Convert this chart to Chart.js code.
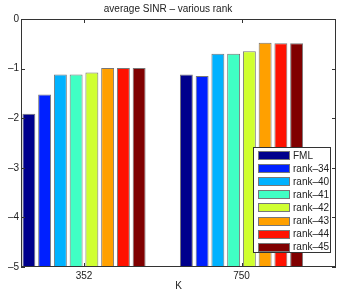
<!DOCTYPE html>
<html>
<head>
<meta charset="utf-8">
<script src="https://cdn.jsdelivr.net/npm/chart.js@4/dist/chart.umd.min.js"></script>
<style>
  html, body { margin: 0; padding: 0; background: #fff; }
  #chart { display: block; }
</style>
</head>
<body>
<canvas id="chart" width="346" height="295"></canvas>
<script>
// data
const categories = ['352', '750'];
const seriesNames = ['FML', 'rank-34', 'rank-40', 'rank-41', 'rank-42', 'rank-43', 'rank-44', 'rank-45'];
const fml    = [-1.91, -1.12];
const rank34 = [-1.52, -1.15];
const rank40 = [-1.12, -0.70];
const rank41 = [-1.12, -0.70];
const rank42 = [-1.08, -0.65];
const rank43 = [-0.99, -0.48];
const rank44 = [-0.99, -0.49];
const rank45 = [-0.99, -0.49];
const yTicks = [0, -1, -2, -3, -4, -5];

const seriesValues = [fml, rank34, rank40, rank41, rank42, rank43, rank44, rank45];
const colors = ['#00008c', '#0020ff', '#00b2ff', '#40ffc4', '#d0ff30', '#ffa000', '#ff1200', '#800000'];

const FONT = 'Liberation Sans, Arial, Helvetica, sans-serif';

// axes frame + inward ticks, matlab style
const framePlugin = {
    id: 'frame',
    afterDatasetsDraw(chart) {
        const { ctx, chartArea: a, scales } = chart;
        ctx.save();
        ctx.strokeStyle = '#333';
        ctx.lineWidth = 1;
        ctx.strokeRect(Math.round(a.left) + 0.5, Math.round(a.top) + 0.5,
            Math.round(a.right - a.left) - 1, Math.round(a.bottom - a.top) - 1);
        ctx.beginPath();
        yTicks.forEach(v => {
            const y = Math.round(scales.y.getPixelForValue(v)) + 0.5;
            ctx.moveTo(a.left, y); ctx.lineTo(a.left + 4, y);
            ctx.moveTo(a.right, y); ctx.lineTo(a.right - 4, y);
        });
        categories.forEach((c, i) => {
            const x = Math.round(scales.x.getPixelForValue(i + 1)) + 0.5;
            ctx.moveTo(x, a.top); ctx.lineTo(x, a.top + 4);
            ctx.moveTo(x, a.bottom); ctx.lineTo(x, a.bottom - 4);
        });
        ctx.stroke();
        ctx.restore();
    },
    afterDraw(chart) {
        // legend box in the lower right
        const ctx = chart.ctx;
        const ds = chart.data.datasets;
        const bx = 253, by = 147, bw = 78, bh = 106;
        ctx.save();
        ctx.fillStyle = '#fff';
        ctx.fillRect(bx, by, bw, bh);
        ctx.strokeStyle = '#333';
        ctx.lineWidth = 1;
        ctx.strokeRect(bx + 0.5, by + 0.5, bw - 1, bh - 1);
        ctx.font = '10px ' + FONT;
        ctx.textBaseline = 'middle';
        ds.forEach((d, i) => {
            const cy = by + 8 + i * 13.1;
            ctx.fillStyle = d.backgroundColor;
            ctx.fillRect(258, Math.round(cy - 4), 32, 9);
            ctx.strokeStyle = '#777';
            ctx.strokeRect(258.5, Math.round(cy - 4) + 0.5, 31, 8);
            ctx.fillStyle = '#222';
            ctx.fillText(d.label.replace('-', '\u2013'), 293, cy + 1);
        });
        ctx.restore();
    }
};

const datasets = seriesNames.map((name, i) => ({
    label: name,
    data: seriesValues[i].map((v, j) => ({ x: j + 1, y: v })),
    backgroundColor: colors[i],
    borderColor: '#777',
    borderWidth: 1,
    base: -5,
    categoryPercentage: 0.8,
    barPercentage: 0.82
}));

new Chart(document.getElementById('chart'), {
    type: 'bar',
    data: { datasets },
    plugins: [framePlugin],
    options: {
        responsive: false,
        animation: false,
        layout: { padding: { left: 0, right: 10, top: 0, bottom: 0 } },
        plugins: {
            legend: { display: false },
            tooltip: { enabled: false },
            title: {
                display: true,
                text: 'average SINR \u2013 various rank',
                color: '#222',
                font: { family: FONT, size: 10, weight: 'normal' },
                padding: { top: 3, bottom: 4 }
            }
        },
        scales: {
            x: {
                type: 'linear',
                min: 0.6,
                max: 2.6,
                offset: false,
                grid: { display: false, drawTicks: false, tickLength: 0 },
                border: { display: false },
                afterBuildTicks(scale) {
                    scale.ticks = categories.map((c, i) => ({ value: i + 1 }));
                },
                ticks: {
                    color: '#222',
                    font: { family: FONT, size: 10 },
                    padding: 3,
                    maxRotation: 0,
                    callback: v => categories[v - 1]
                },
                title: {
                    display: true,
                    text: 'K',
                    color: '#222',
                    font: { family: FONT, size: 10 },
                    padding: { top: 0, bottom: 3 }
                },
                afterFit(scale) { scale.height = 28; }
            },
            y: {
                min: -5,
                max: 0,
                grid: { display: false, drawTicks: false, tickLength: 0 },
                border: { display: false },
                afterBuildTicks(scale) {
                    scale.ticks = yTicks.map(v => ({ value: v }));
                },
                ticks: {
                    color: '#222',
                    font: { family: FONT, size: 10 },
                    padding: 2,
                    callback: v => String(v).replace('-', '\u2013')
                },
                afterFit(scale) { scale.width = 21; }
            }
        }
    }
});
</script>
</body>
</html>
